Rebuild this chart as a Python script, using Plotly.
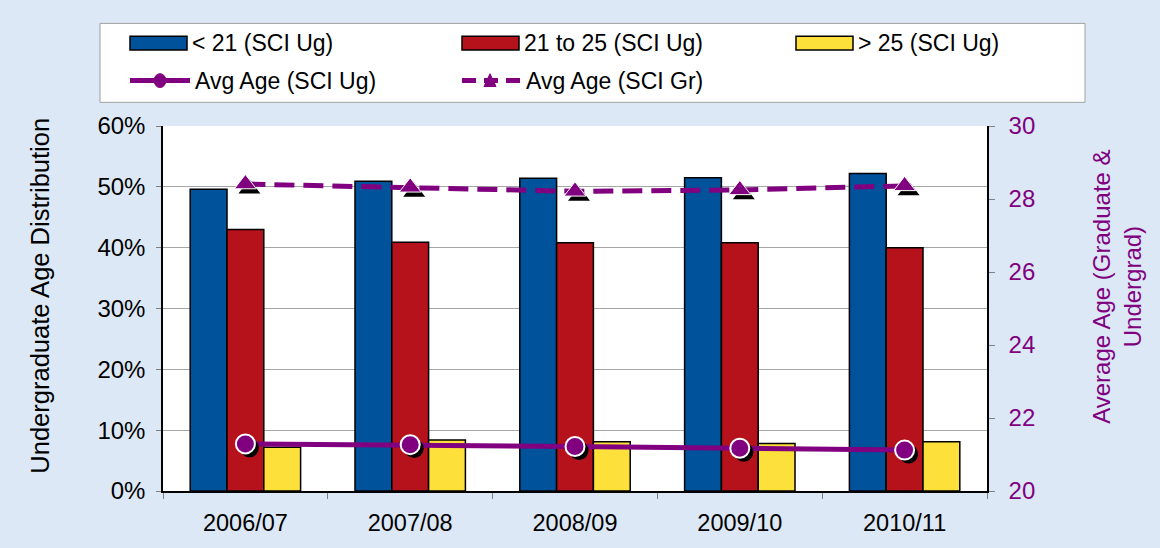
import plotly.graph_objects as go

categories = ["2006/07", "2007/08", "2008/09", "2009/10", "2010/11"]
under21 = [0.496, 0.509, 0.514, 0.515, 0.522]
age21_25 = [0.430, 0.409, 0.408, 0.408, 0.400]
over25 = [0.072, 0.084, 0.081, 0.078, 0.081]
avg_ug = [21.29, 21.27, 21.22, 21.17, 21.12]
avg_gr = [28.41, 28.32, 28.21, 28.25, 28.36]

W, H = 1160, 548
L, R, T, B = 163, 987, 126, 496
FONT = "Liberation Sans, Arial, sans-serif"
BLUE, RED, YEL, PUR = "#00529b", "#b5121b", "#fde13a", "#800080"


def px(x):
    return (x - L) / (R - L)


def py(y):
    return (B - y) / (B - T)


idx = list(range(len(categories)))
dx = 4 / ((R - L) / len(categories))
dy = 4 * 10 / (B - T)

fig = go.Figure()
for name, vals, col in [("< 21 (SCI Ug)", under21, BLUE),
                        ("21 to 25 (SCI Ug)", age21_25, RED),
                        ("> 25 (SCI Ug)", over25, YEL)]:
    fig.add_trace(go.Bar(x=categories, y=vals, name=name, marker_color=col,
                         marker_line=dict(color="black", width=1.5), showlegend=False))

# Graduate avg age (dashed + triangles)
fig.add_trace(go.Scatter(x=idx, y=avg_gr, mode="lines", xaxis="x2", yaxis="y2",
                         line=dict(color=PUR, width=5, dash="20px,9px"), showlegend=False))
fig.add_trace(go.Scatter(x=[i + dx for i in idx], y=[v - dy * 1.2 for v in avg_gr], mode="markers",
                         xaxis="x2", yaxis="y2", marker=dict(symbol="triangle-up", size=19, color="black"),
                         showlegend=False, hoverinfo="skip"))
fig.add_trace(go.Scatter(x=idx, y=avg_gr, mode="markers", xaxis="x2", yaxis="y2",
                         marker=dict(symbol="triangle-up", size=19, color=PUR, line=dict(color="white", width=1)),
                         name="Avg Age (SCI Gr)", showlegend=False))
# Undergrad avg age (solid + circles)
fig.add_trace(go.Scatter(x=idx, y=avg_ug, mode="lines", xaxis="x2", yaxis="y2",
                         line=dict(color=PUR, width=5), showlegend=False))
fig.add_trace(go.Scatter(x=[i + dx for i in idx], y=[v - dy for v in avg_ug], mode="markers",
                         xaxis="x2", yaxis="y2", marker=dict(symbol="circle", size=19, color="black"),
                         showlegend=False, hoverinfo="skip"))
fig.add_trace(go.Scatter(x=idx, y=avg_ug, mode="markers", xaxis="x2", yaxis="y2",
                         marker=dict(symbol="circle", size=19, color=PUR, line=dict(color="white", width=2)),
                         name="Avg Age (SCI Ug)", showlegend=False))

shapes = []
annotations = []
LEGFONT = dict(size=23, color="black", family=FONT)
# legend box
shapes.append(dict(type="rect", xref="paper", yref="paper", x0=px(100), x1=px(1085), y0=py(102), y1=py(22),
                   fillcolor="white", line=dict(color="#a0a0a0", width=1), layer="above"))
for x0, col, label in [(130, BLUE, "< 21 (SCI Ug)"), (462, RED, "21 to 25 (SCI Ug)"), (796, YEL, "> 25 (SCI Ug)")]:
    shapes.append(dict(type="rect", xref="paper", yref="paper", x0=px(x0), x1=px(x0 + 57), y0=py(49), y1=py(35),
                       fillcolor=col, line=dict(color="black", width=1.5), layer="above"))
    annotations.append(dict(xref="paper", yref="paper", x=px(x0 + 60), y=py(42), text=label, showarrow=False,
                            xanchor="left", yanchor="middle", font=LEGFONT))
# row 2
shapes.append(dict(type="line", xref="paper", yref="paper", x0=px(130), x1=px(190), y0=py(80), y1=py(80),
                   line=dict(color=PUR, width=5), layer="above"))
shapes.append(dict(type="circle", xref="paper", yref="paper", x0=px(154), x1=px(166), y0=py(87), y1=py(73),
                   fillcolor=PUR, line=dict(color=PUR, width=1), layer="above"))
annotations.append(dict(xref="paper", yref="paper", x=px(193), y=py(80), text="Avg Age (SCI Ug)", showarrow=False,
                        xanchor="left", yanchor="middle", font=LEGFONT))
shapes.append(dict(type="line", xref="paper", yref="paper", x0=px(462), x1=px(520), y0=py(80), y1=py(80),
                   line=dict(color=PUR, width=5, dash="14px,8px"), layer="above"))
tri = "M {},{} L {},{} L {},{} Z".format(px(484), py(86), px(496), py(86), px(490), py(73))
shapes.append(dict(type="path", xref="paper", yref="paper", path=tri, fillcolor=PUR,
                   line=dict(color=PUR, width=1), layer="above"))
annotations.append(dict(xref="paper", yref="paper", x=px(524), y=py(80), text="Avg Age (SCI Gr)", showarrow=False,
                        xanchor="left", yanchor="middle", font=LEGFONT))

# axis titles
annotations.append(dict(xref="paper", yref="paper", x=px(40), y=py(298), text="Undergraduate Age Distribution",
                        textangle=-90, showarrow=False, xanchor="center", yanchor="middle",
                        font=dict(size=25.5, color="black", family=FONT)))
annotations.append(dict(xref="paper", yref="paper", x=px(1117), y=py(289),
                        text="Average Age (Graduate &<br>Undergrad)", align="center",
                        textangle=-90, showarrow=False, xanchor="center", yanchor="middle",
                        font=dict(size=24, color=PUR, family=FONT)))

fig.update_layout(
    width=W, height=H,
    margin=dict(l=L, r=W - R, t=T, b=H - B, pad=0),
    paper_bgcolor="#dce8f6", plot_bgcolor="white",
    barmode="group", bargap=0.33, bargroupgap=0,
    font=dict(family=FONT, size=22, color="black"),
    showlegend=False,
    xaxis=dict(type="category", tickson="boundaries", ticks="outside", ticklen=6, tickcolor="#808080",
               showline=True, linecolor="black", linewidth=1.5, showgrid=False,
               tickfont=dict(size=23.5, color="black"), ticklabelstandoff=10),
    yaxis=dict(range=[0, 0.6], dtick=0.1, tickformat=".0%", showgrid=True, gridcolor="#a6a6a6", gridwidth=1,
               showline=True, linecolor="black", linewidth=1.5, ticks="outside", ticklen=5, tickcolor="#808080",
               zeroline=False, tickfont=dict(size=24, color="black"), ticklabelstandoff=6),
    xaxis2=dict(overlaying="x", range=[-0.5, 4.5], visible=False, anchor="y"),
    yaxis2=dict(overlaying="y", side="right", anchor="x", range=[20, 30], dtick=2, showgrid=False,
                showline=True, linecolor="black", linewidth=1.5, ticks="outside", ticklen=6, tickcolor="#808080",
                zeroline=False, tickfont=dict(size=24, color=PUR), ticklabelstandoff=9),
    shapes=shapes, annotations=annotations,
)

fig.write_html("out.html", config={"displayModeBar": False},
               post_script="document.body.style.margin='0';document.body.style.overflow='hidden';")
